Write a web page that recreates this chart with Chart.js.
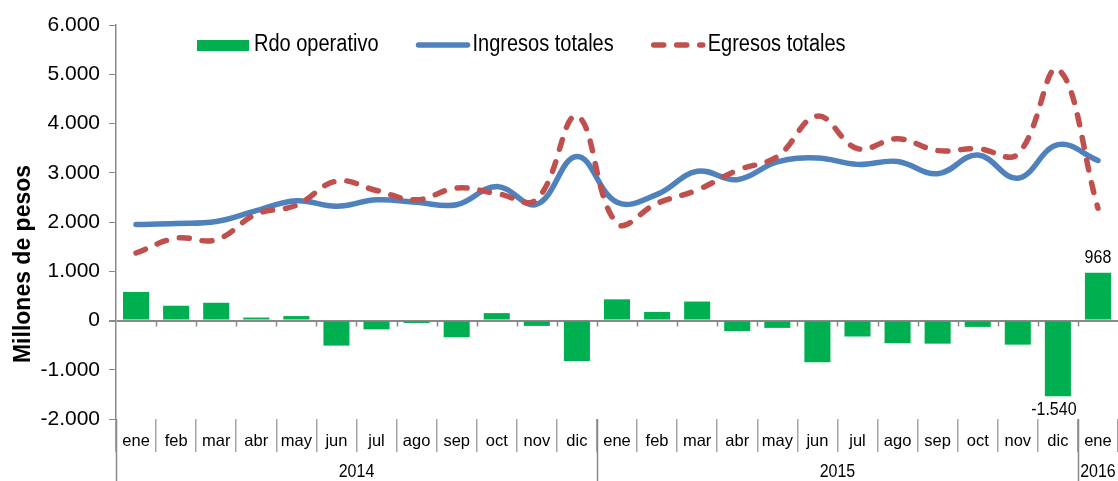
<!DOCTYPE html>
<html>
<head>
<meta charset="utf-8">
<script src="https://cdn.jsdelivr.net/npm/chart.js"></script>
<style>
  html, body { margin: 0; padding: 0; background: #fff; }
  #wrap { width: 1118px; height: 481px; }
</style>
</head>
<body>
<div id="wrap"><canvas id="grafico" width="1118" height="481"></canvas></div>
<script>
const meses = ['ene', 'feb', 'mar', 'abr', 'may', 'jun', 'jul', 'ago', 'sep', 'oct', 'nov', 'dic',
               'ene', 'feb', 'mar', 'abr', 'may', 'jun', 'jul', 'ago', 'sep', 'oct', 'nov', 'dic',
               'ene'];
const anios = ['2014', '2015', '2016'];
const mesesPorAnio = [12, 12, 1];

const rdoOperativo = [580, 300, 360, 60, 90, -510, -180, -50, -340, 150, -110, -820,
                      430, 175, 385, -215, -150, -850, -325, -460, -470, -130, -490, -1540,
                      968];
const ingresos = [1950, 1970, 2010, 2230, 2430, 2320, 2450, 2400, 2350, 2720, 2360, 3330,
                  2400, 2560, 3030, 2860, 3220, 3300, 3170, 3230, 2980, 3360, 2890, 3570,
                  3250];
const egresos = [1370, 1670, 1640, 2160, 2340, 2830, 2640, 2450, 2690, 2580, 2460, 4150,
                 1970, 2380, 2650, 3050, 3330, 4150, 3490, 3690, 3450, 3490, 3380, 5100,
                 2280];

const GRIS = '#898989';
const FUENTE = "'Liberation Sans', Arial, sans-serif";

function fmt(v) {
    return String(v).replace(/\B(?=(\d{3})+(?!\d))/g, '.');
}

// texto algo estirado en vertical, como en el original
function texto(ctx, t, x, y) {
    ctx.save();
    ctx.translate(x, y);
    ctx.scale(1, 1.15);
    ctx.fillText(t, 0, 0);
    ctx.restore();
}

// etiquetas de datos: el minimo y el ultimo valor
const idxMin = rdoOperativo.indexOf(Math.min(...rdoOperativo));
const etiquetados = [idxMin, rdoOperativo.length - 1];

const extras = {
    id: 'extras',
    afterDraw(chart) {
        const ctx = chart.ctx;
        const area = chart.chartArea;
        const y = chart.scales.y;
        const n = meses.length;
        const paso = (area.right - area.left) / n;
        const y0 = y.getPixelForValue(0);

        ctx.save();
        // marcas sobre la linea de cero
        ctx.strokeStyle = GRIS;
        ctx.lineWidth = 1.5;
        for (let i = 1; i < n; i++) {
            const bx = Math.round(area.left + i * paso) + 0.5;
            ctx.beginPath();
            ctx.moveTo(bx, y0);
            ctx.lineTo(bx, y0 + 6);
            ctx.stroke();
        }

        // separadores y etiquetas de anio
        let ini = 0;
        ctx.fillStyle = '#000';
        ctx.font = '16px ' + FUENTE;
        ctx.textAlign = 'center';
        ctx.textBaseline = 'middle';
        anios.forEach((a, k) => {
            const bx = Math.round(area.left + ini * paso) + 0.5;
            ctx.beginPath();
            ctx.moveTo(bx, area.bottom);
            ctx.lineTo(bx, chart.height);
            ctx.stroke();
            const fin = ini + mesesPorAnio[k];
            const cx = area.left + (ini + fin) / 2 * paso;
            texto(ctx, a, cx, 472);
            ini = fin;
        });

        // etiquetas de datos
        const meta = chart.getDatasetMeta(2);
        ctx.font = '16px ' + FUENTE;
        etiquetados.forEach(i => {
            const el = meta.data[i];
            const v = rdoOperativo[i];
            if (v >= 0) {
                ctx.textBaseline = 'bottom';
                texto(ctx, fmt(v), el.x, el.y - 6);
            } else {
                ctx.textBaseline = 'top';
                texto(ctx, fmt(v), el.x - 4, el.y + 4);
            }
        });

        // titulo del eje
        ctx.save();
        ctx.translate(24, 264);
        ctx.rotate(-Math.PI / 2);
        ctx.font = 'bold 23px ' + FUENTE;
        ctx.textBaseline = 'middle';
        ctx.fillText('Millones de pesos', 0, 0);
        ctx.restore();

        // leyenda
        const ds = chart.data.datasets;
        const orden = [2, 1, 0];
        let lx = 197;
        const ly = 45;
        ctx.font = '20px ' + FUENTE;
        ctx.textAlign = 'left';
        ctx.textBaseline = 'middle';
        orden.forEach(j => {
            const d = ds[j];
            if (d.type === 'bar') {
                ctx.fillStyle = d.backgroundColor;
                ctx.fillRect(lx, ly - 5, 52, 11);
            } else {
                ctx.strokeStyle = d.borderColor;
                ctx.lineWidth = d.borderWidth;
                ctx.lineCap = 'round';
                ctx.setLineDash(d.borderDash || []);
                ctx.beginPath();
                ctx.moveTo(lx + 3, ly);
                ctx.lineTo(lx + 52, ly);
                ctx.stroke();
                ctx.setLineDash([]);
            }
            ctx.fillStyle = '#000';
            texto(ctx, d.label, lx + 57, ly);
            lx += 57 + ctx.measureText(d.label).width + 37;
        });
        ctx.restore();
    }
};

const ctx = document.getElementById('grafico').getContext('2d');
const grafico = new Chart(ctx, {
    data: {
        labels: meses,
        datasets: [{
            type: 'line',
            label: 'Egresos totales',
            data: egresos,
            borderColor: '#C0504D',
            borderWidth: 5.5,
            borderDash: [10, 13],
            borderCapStyle: 'round',
            pointRadius: 0,
            tension: 0.4,
            order: 1
        }, {
            type: 'line',
            label: 'Ingresos totales',
            data: ingresos,
            borderColor: '#4F81BD',
            borderWidth: 5.5,
            borderCapStyle: 'round',
            pointRadius: 0,
            tension: 0.4,
            order: 2
        }, {
            type: 'bar',
            label: 'Rdo operativo',
            data: rdoOperativo,
            backgroundColor: '#00B050',
            barPercentage: 0.65,
            categoryPercentage: 1.0,
            order: 3
        }]
    },
    options: {
        responsive: false,
        animation: false,
        layout: { padding: { top: 25, right: 0, left: 0, bottom: 0 } },
        plugins: {
            legend: { display: false },
            tooltip: { enabled: false }
        },
        scales: {
            x: {
                grid: {
                    offset: true,
                    drawOnChartArea: false,
                    color: '#a6a6a6',
                    lineWidth: 1.5,
                    tickLength: 33
                },
                border: { display: false },
                ticks: {
                    color: '#000',
                    font: { size: 16.5, family: FUENTE },
                    padding: -20,
                    maxRotation: 0,
                    autoSkip: false
                },
                afterFit(s) { s.height = 62; }
            },
            y: {
                min: -2000,
                max: 6000,
                grid: {
                    color: c => (c.tick && c.tick.value === 0) ? GRIS : 'rgba(0,0,0,0)',
                    lineWidth: c => (c.tick && c.tick.value === 0) ? 2 : 1,
                    tickColor: GRIS,
                    tickLength: 7
                },
                border: { display: true, color: GRIS, width: 1.5 },
                ticks: {
                    stepSize: 1000,
                    color: '#000',
                    font: { size: 21, family: FUENTE },
                    padding: 9,
                    callback: v => fmt(v)
                },
                afterFit(s) { s.width = 116; }
            }
        }
    },
    plugins: [extras]
});
</script>
</body>
</html>
